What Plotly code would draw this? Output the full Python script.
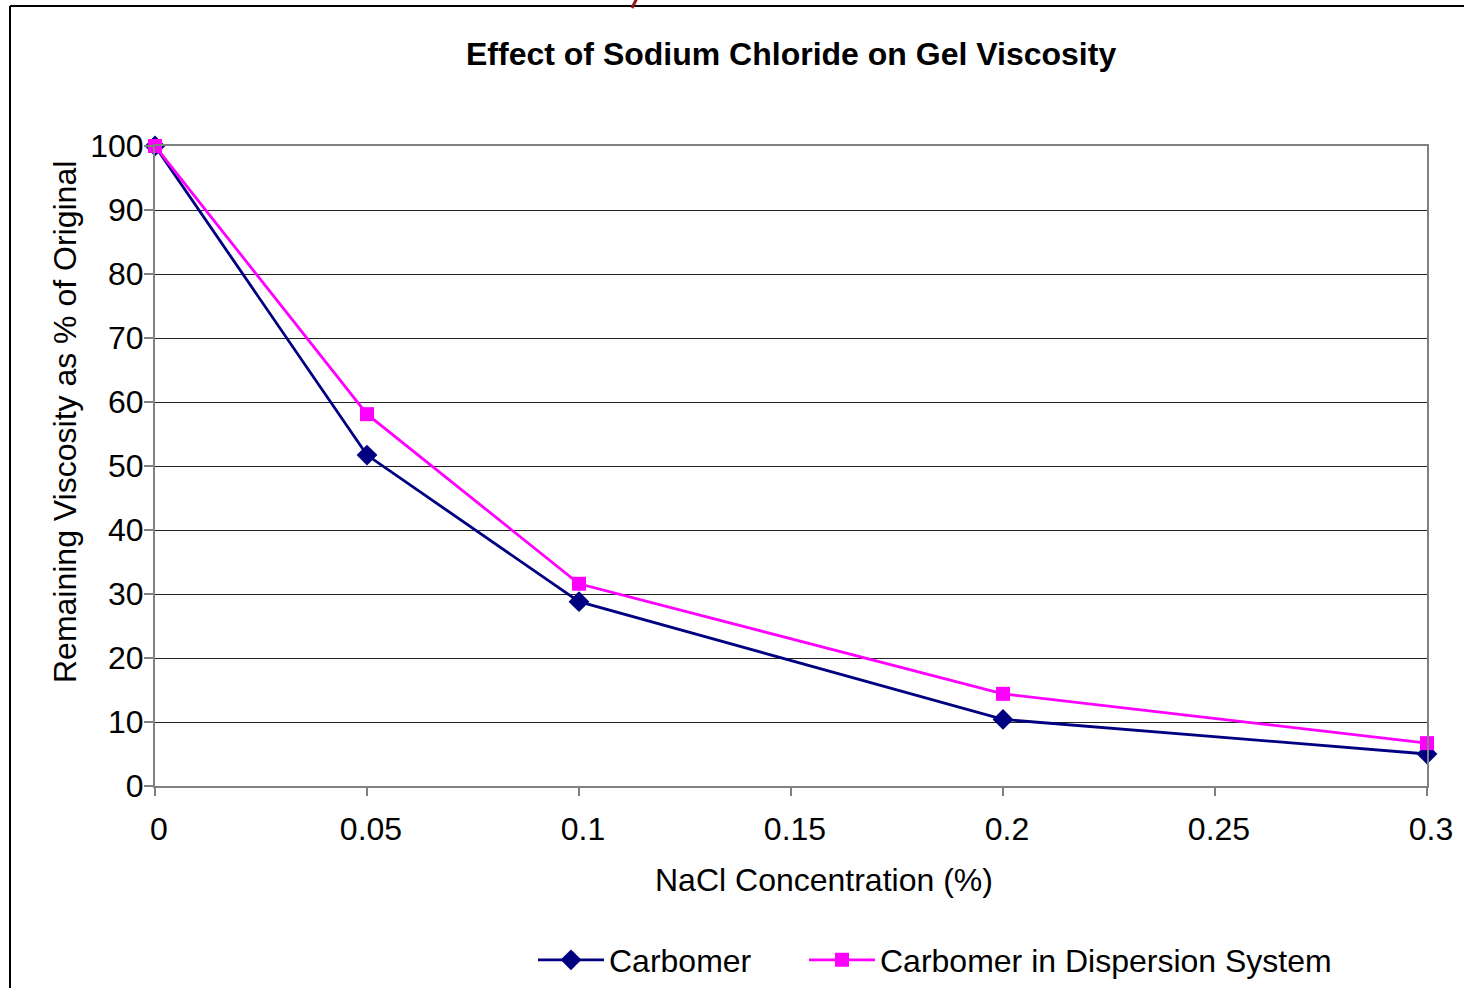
import plotly.graph_objects as go

nacl = [0, 0.05, 0.1, 0.2, 0.3]
carbomer = [100, 51.7, 28.8, 10.4, 5.0]
dispersion = [100, 58.1, 31.6, 14.4, 6.7]
x_ticks = [0, 0.05, 0.1, 0.15, 0.2, 0.25, 0.3]
x_labels = ["0", "0.05", "0.1", "0.15", "0.2", "0.25", "0.3"]
y_ticks = [0, 10, 20, 30, 40, 50, 60, 70, 80, 90, 100]

FONT = "Liberation Sans, Arial, sans-serif"

# pixel layout of plot area
L, R, T, B = 155, 1427, 146, 786
W, H = 1464, 988
pw, ph = R - L, B - T

def px(x):
    return (x - L) / pw

def py(y):
    return (B - y) / ph

fig = go.Figure()
fig.add_trace(go.Scatter(
    x=nacl, y=carbomer, name="Carbomer", mode="lines+markers",
    line=dict(color="#000080", width=2.8),
    marker=dict(symbol="diamond", size=16, color="#000080"),
    cliponaxis=False, legend="legend",
))
fig.add_trace(go.Scatter(
    x=nacl, y=dispersion, name="Carbomer in Dispersion System", mode="lines+markers",
    line=dict(color="#FF00FF", width=2.8),
    marker=dict(symbol="square", size=14, color="#FF00FF"),
    cliponaxis=False, legend="legend2",
))

leg_common = dict(orientation="h", xanchor="left", yanchor="middle",
                  font=dict(size=32), itemwidth=66, bgcolor="rgba(0,0,0,0)")

fig.update_layout(
    width=W, height=H,
    margin=dict(l=L, r=W - R, t=T, b=H - B, autoexpand=False),
    paper_bgcolor="white", plot_bgcolor="white",
    font=dict(family=FONT, size=32, color="black"),
    showlegend=True,
    legend=dict(x=px(533), y=py(960), **leg_common),
    legend2=dict(x=px(804), y=py(960), **leg_common),
    annotations=[
        dict(text="<b>Effect of Sodium Chloride on Gel Viscosity</b>", xref="paper", yref="paper",
             x=px(791), y=py(54), xanchor="center", yanchor="middle", showarrow=False,
             font=dict(size=32)),
        dict(text="Remaining Viscosity as % of Original", xref="paper", yref="paper",
             x=px(65), y=py(422), xanchor="center", yanchor="middle", showarrow=False,
             textangle=-90, font=dict(size=32)),
        dict(text="NaCl Concentration (%)", xref="paper", yref="paper",
             x=px(824), y=py(880), xanchor="center", yanchor="middle", showarrow=False,
             font=dict(size=32)),
    ],
    shapes=[
        dict(type="line", xref="paper", yref="paper", x0=px(10), x1=px(10), y0=py(6), y1=py(1000),
             line=dict(color="black", width=2)),
        dict(type="line", xref="paper", yref="paper", x0=px(10), x1=px(1470), y0=py(6), y1=py(6),
             line=dict(color="black", width=2)),
        dict(type="line", xref="paper", yref="paper", x0=px(637), x1=px(632), y0=py(-2), y1=py(8),
             line=dict(color="#8B1A1A", width=3)),
    ],
)

fig.update_xaxes(
    range=[0, 0.3], tickvals=x_ticks, ticktext=x_labels,
    showgrid=False, zeroline=False,
    showline=True, linecolor="#808080", linewidth=2, mirror=True,
    ticks="outside", ticklen=8, tickcolor="#808080", tickwidth=1.5,
    tickfont=dict(size=32), ticklabelstandoff=6, ticklabelshift=4,
)
fig.update_yaxes(
    range=[0, 100], tickvals=y_ticks,
    showgrid=True, gridcolor="#222222", gridwidth=1, zeroline=False,
    showline=True, linecolor="#808080", linewidth=2, mirror=True,
    ticks="outside", ticklen=9, tickcolor="#808080", tickwidth=1.5,
    tickfont=dict(size=32), ticklabelstandoff=-6,
)

fig.write_html("out.html", config={"displayModeBar": False},
               post_script="document.body.style.margin='0px';document.body.style.overflow='hidden';")
